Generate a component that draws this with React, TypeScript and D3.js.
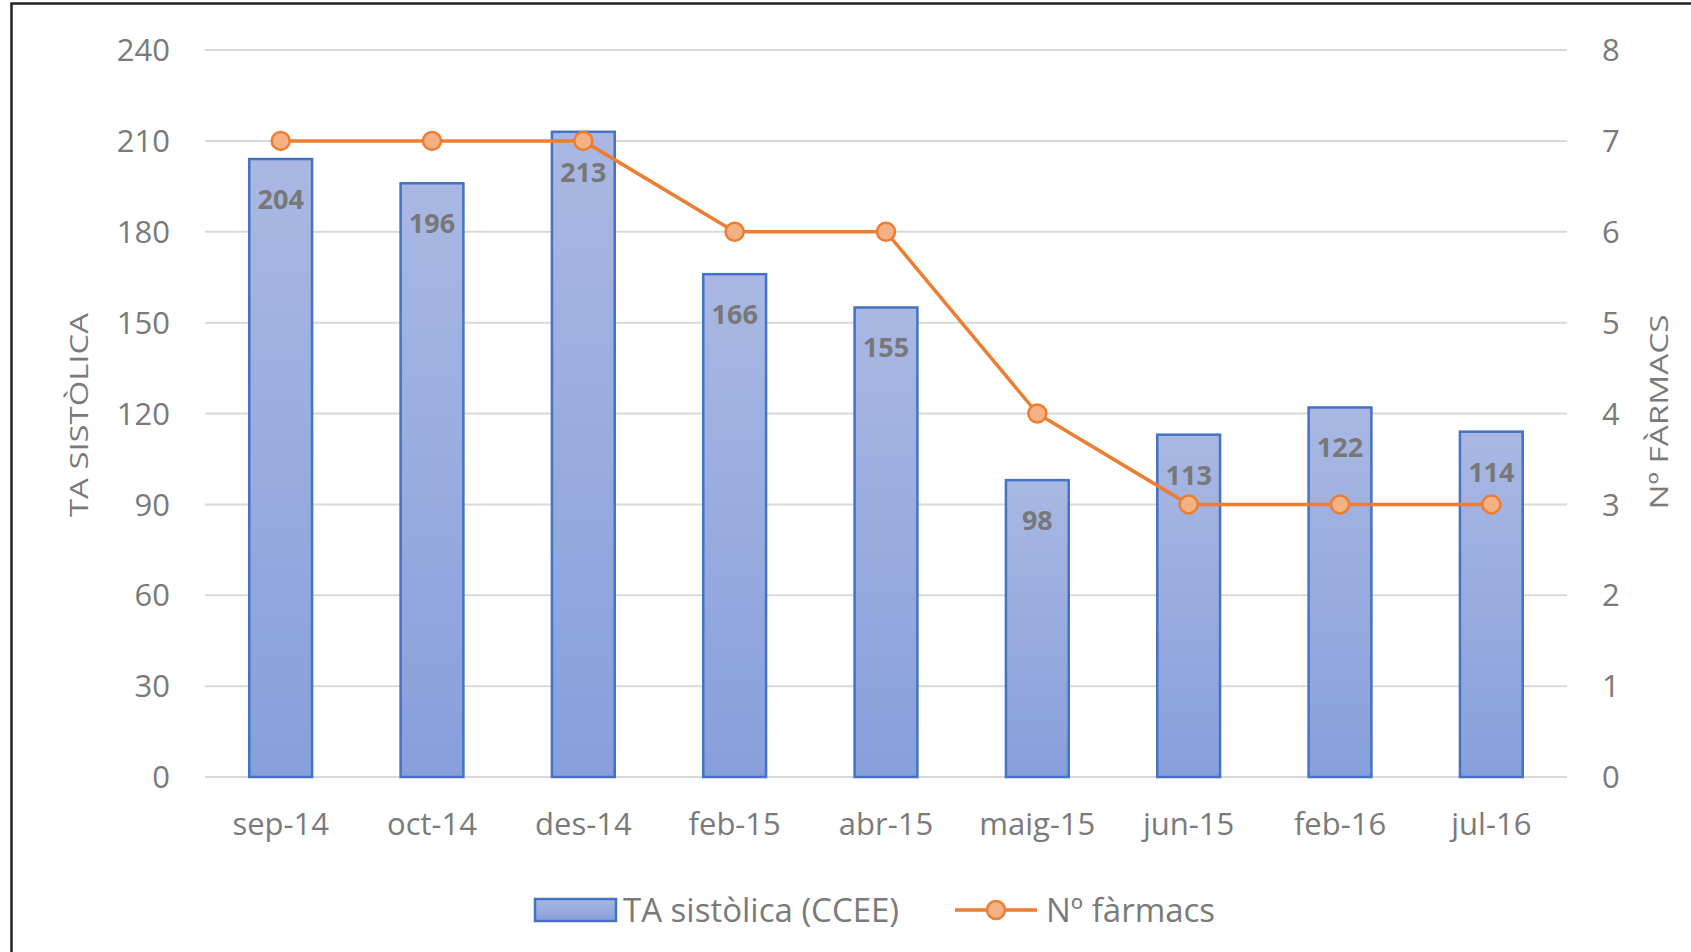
import * as d3 from 'd3';
import { useEffect, useRef } from 'react';

const categories = ['sep-14', 'oct-14', 'des-14', 'feb-15', 'abr-15', 'maig-15', 'jun-15', 'feb-16', 'jul-16'];
const taSistolica = [204, 196, 213, 166, 155, 98, 113, 122, 114];
const numFarmacs = [7, 7, 7, 6, 6, 4, 3, 3, 3];
const leftTicks = [0, 30, 60, 90, 120, 150, 180, 210, 240];
const rightTicks = [0, 1, 2, 3, 4, 5, 6, 7, 8];

const WIDTH = 1691;
const HEIGHT = 952;
const FONT = '"Open Sans", "Noto Sans", sans-serif';
const TEXT_GRAY = '#7a7a7a';
const BAR_STROKE = '#4472c4';
const ORANGE = '#ed7d31';
const ORANGE_LIGHT = '#f4b183';

export default function App() {
  const svgRef = useRef<SVGSVGElement>(null);

  useEffect(() => {
    document.body.style.margin = '0';
    if (!svgRef.current) return;
    const svg = d3.select(svgRef.current);
    svg.selectAll('*').remove();

    const plot = { left: 205, right: 1567, top: 50, bottom: 777 };

    const x = d3.scaleBand()
      .domain(categories)
      .range([plot.left, plot.right])
      .paddingInner(0.585)
      .paddingOuter(0.2925);
    const yLeft = d3.scaleLinear().domain([0, 240]).range([plot.bottom, plot.top]);
    const yRight = d3.scaleLinear().domain([0, 8]).range([plot.bottom, plot.top]);
    const cx = (c: string) => (x(c) ?? 0) + x.bandwidth() / 2;

    const defs = svg.append('defs');
    const grad = defs.append('linearGradient')
      .attr('id', 'barGrad')
      .attr('x1', 0).attr('y1', 0).attr('x2', 0).attr('y2', 1);
    grad.append('stop').attr('offset', '0%').attr('stop-color', '#a9b8e3');
    grad.append('stop').attr('offset', '100%').attr('stop-color', '#879fdb');

    svg.append('rect').attr('width', WIDTH).attr('height', HEIGHT).attr('fill', '#fff');

    // outer frame (top + left edges visible)
    svg.append('path')
      .attr('d', `M11.5,${HEIGHT} L11.5,3.5 L${WIDTH},3.5`)
      .attr('fill', 'none')
      .attr('stroke', '#222')
      .attr('stroke-width', 2.5);

    // gridlines
    svg.append('g')
      .selectAll('line')
      .data(leftTicks)
      .join('line')
      .attr('x1', plot.left)
      .attr('x2', plot.right)
      .attr('y1', d => yLeft(d))
      .attr('y2', d => yLeft(d))
      .attr('stroke', '#d9d9d9')
      .attr('stroke-width', 2);

    // left tick labels
    svg.append('g')
      .selectAll('text')
      .data(leftTicks)
      .join('text')
      .attr('x', 170)
      .attr('y', d => yLeft(d))
      .attr('dy', '0.36em')
      .attr('text-anchor', 'end')
      .style('font-family', FONT)
      .style('font-size', '31px')
      .style('fill', TEXT_GRAY)
      .text(d => String(d));

    // right tick labels
    svg.append('g')
      .selectAll('text')
      .data(rightTicks)
      .join('text')
      .attr('x', 1602)
      .attr('y', d => yRight(d))
      .attr('dy', '0.36em')
      .attr('text-anchor', 'start')
      .style('font-family', FONT)
      .style('font-size', '31px')
      .style('fill', TEXT_GRAY)
      .text(d => String(d));

    // bars
    svg.append('g')
      .selectAll('rect')
      .data(taSistolica)
      .join('rect')
      .attr('x', (_, i) => x(categories[i]) ?? 0)
      .attr('y', d => yLeft(d))
      .attr('width', x.bandwidth())
      .attr('height', d => plot.bottom - yLeft(d))
      .attr('fill', 'url(#barGrad)')
      .attr('stroke', BAR_STROKE)
      .attr('stroke-width', 2.5);

    // bar value labels
    svg.append('g')
      .selectAll('text')
      .data(taSistolica)
      .join('text')
      .attr('x', (_, i) => cx(categories[i]))
      .attr('y', d => yLeft(d) + 50)
      .attr('text-anchor', 'middle')
      .style('font-family', FONT)
      .style('font-size', '27px')
      .style('font-weight', 'bold')
      .style('fill', '#787878')
      .text(d => String(d));

    // line series
    const line = d3.line<number>()
      .x((_, i) => cx(categories[i]))
      .y(d => yRight(d));
    svg.append('path')
      .datum(numFarmacs)
      .attr('d', line)
      .attr('fill', 'none')
      .attr('stroke', ORANGE)
      .attr('stroke-width', 3.5)
      .attr('stroke-linejoin', 'round');

    svg.append('g')
      .selectAll('circle')
      .data(numFarmacs)
      .join('circle')
      .attr('cx', (_, i) => cx(categories[i]))
      .attr('cy', d => yRight(d))
      .attr('r', 9)
      .attr('fill', ORANGE_LIGHT)
      .attr('stroke', ORANGE)
      .attr('stroke-width', 2.5);

    // x labels
    svg.append('g')
      .selectAll('text')
      .data(categories)
      .join('text')
      .attr('x', d => cx(d))
      .attr('y', 835)
      .attr('text-anchor', 'middle')
      .style('font-family', FONT)
      .style('font-size', '31px')
      .style('fill', TEXT_GRAY)
      .text(d => d);

    // axis titles
    svg.append('text')
      .attr('transform', 'translate(88,415) rotate(-90)')
      .attr('text-anchor', 'middle')
      .attr('textLength', 204)
      .attr('lengthAdjust', 'spacingAndGlyphs')
      .style('font-family', FONT)
      .style('font-size', '26px')
      .style('fill', TEXT_GRAY)
      .text('TA SISTÒLICA');

    svg.append('text')
      .attr('transform', 'translate(1668,412) rotate(-90)')
      .attr('text-anchor', 'middle')
      .attr('textLength', 195)
      .attr('lengthAdjust', 'spacingAndGlyphs')
      .style('font-family', FONT)
      .style('font-size', '26px')
      .style('fill', TEXT_GRAY)
      .text('Nº FÀRMACS');

    // legend
    const legend = svg.append('g');
    legend.append('rect')
      .attr('x', 535).attr('y', 899)
      .attr('width', 81).attr('height', 22)
      .attr('fill', 'url(#barGrad)')
      .attr('stroke', BAR_STROKE)
      .attr('stroke-width', 2.5);
    legend.append('text')
      .attr('x', 623).attr('y', 922)
      .style('font-family', FONT)
      .style('font-size', '33px')
      .style('fill', TEXT_GRAY)
      .text('TA sistòlica (CCEE)');
    legend.append('line')
      .attr('x1', 955).attr('x2', 1037)
      .attr('y1', 910).attr('y2', 910)
      .attr('stroke', ORANGE)
      .attr('stroke-width', 3.5);
    legend.append('circle')
      .attr('cx', 996).attr('cy', 910).attr('r', 9)
      .attr('fill', ORANGE_LIGHT)
      .attr('stroke', ORANGE)
      .attr('stroke-width', 2.5);
    legend.append('text')
      .attr('x', 1046).attr('y', 922)
      .style('font-family', FONT)
      .style('font-size', '33px')
      .style('fill', TEXT_GRAY)
      .text('Nº fàrmacs');
  }, []);

  return <svg ref={svgRef} width={WIDTH} height={HEIGHT} style={{ display: 'block' }} />;
}
